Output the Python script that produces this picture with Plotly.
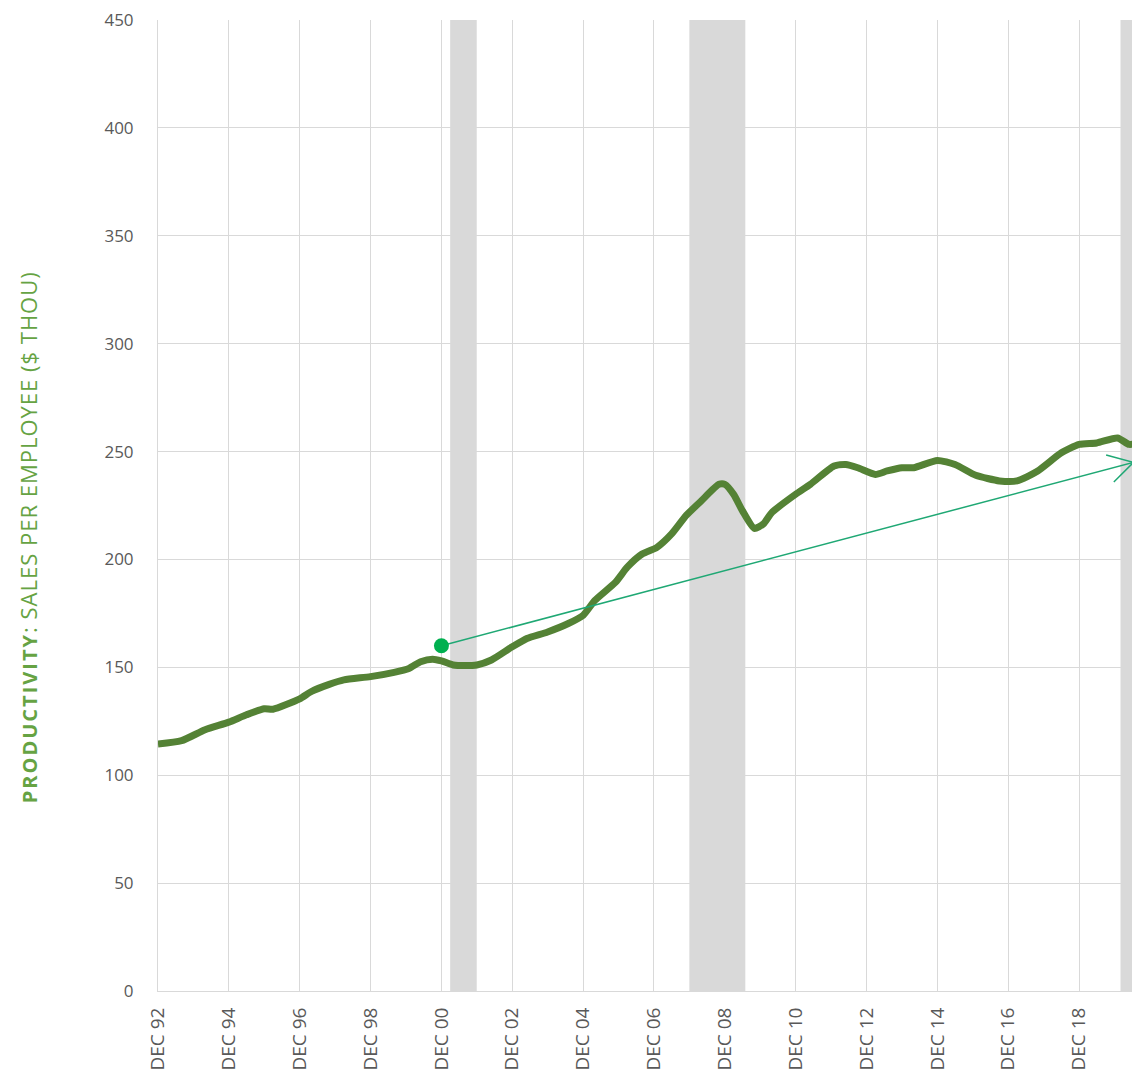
import math
import pandas as pd
import plotly.graph_objects as go

# --- data ---
dates = ['1992-12-01', '1993-08-01', '1994-04-01', '1994-12-01', '1995-06-01', '1995-12-01',
         '1996-03-01', '1996-12-01', '1997-04-01', '1997-10-01', '1998-03-01', '1998-12-01',
         '1999-08-01', '2000-01-01', '2000-05-01', '2000-09-01', '2000-12-01', '2001-04-01',
         '2001-08-01', '2001-12-01', '2002-05-01', '2002-12-01', '2003-05-01', '2003-12-01',
         '2004-07-01', '2004-12-01', '2005-04-01', '2005-11-01', '2006-03-01', '2006-08-01',
         '2007-01-01', '2007-06-01', '2007-11-01', '2008-04-01', '2008-10-01', '2008-12-01',
         '2009-03-01', '2009-06-01', '2009-10-01', '2010-01-01', '2010-04-01', '2010-12-01',
         '2011-05-01', '2012-01-01', '2012-05-01', '2012-09-01', '2013-03-01', '2013-07-01',
         '2013-12-01', '2014-04-01', '2014-12-01', '2015-06-01', '2016-01-01', '2016-09-01',
         '2017-03-01', '2017-10-01', '2018-06-01', '2018-12-01', '2019-06-01', '2020-01-01',
         '2020-05-01', '2020-08-15']
sales_per_employee = [114.5, 116.0, 121.1, 124.6, 128.0, 130.8,
                      130.6, 135.4, 138.8, 142.1, 144.2, 145.7,
                      147.7, 149.5, 152.6, 153.8, 153.0, 151.1,
                      150.8, 151.1, 153.4, 159.5, 163.4, 166.4,
                      170.3, 174.1, 181.0, 189.5, 196.4, 202.5,
                      205.6, 211.8, 220.5, 227.1, 234.8, 234.8,
                      230.2, 222.5, 214.4, 216.4, 221.8, 230.2,
                      234.8, 243.3, 244.0, 242.5, 239.4, 241.0,
                      242.5, 242.5, 245.9, 244.0, 239.0, 236.4,
                      236.4, 241.0, 249.4, 253.3, 254.0, 256.3,
                      253.3, 254.0]

# recessions (start, end)
recession_start = ['2001-03-01', '2007-12-01', '2020-02-01']
recession_end = ['2001-11-30', '2009-06-30', '2020-08-20']

# trend arrow
trend_dates = ['2000-12-01', '2020-06-15']
trend_values = [160, 245]

tick_dates = ['1992-12-01', '1994-12-01', '1996-12-01', '1998-12-01', '2000-12-01',
              '2002-12-01', '2004-12-01', '2006-12-01', '2008-12-01', '2010-12-01',
              '2012-12-01', '2014-12-01', '2016-12-01', '2018-12-01']
tick_labels = ['DEC 92', 'DEC 94', 'DEC 96', 'DEC 98', 'DEC 00', 'DEC 02', 'DEC 04',
               'DEC 06', 'DEC 08', 'DEC 10', 'DEC 12', 'DEC 14', 'DEC 16', 'DEC 18']

x_range = ['1992-12-01', '2020-08-20']
y_range = [0, 450]

# --- figure geometry (page body adds 8px) ---
W, H = 1132, 1072
M = dict(l=150, r=0, t=12, b=89)
plot_w = W - M['l'] - M['r']
plot_h = H - M['t'] - M['b']

GRID = '#d9d9d9'
TXT = '#595959'
ARROW = '#1fa874'
FONT = 'Open Sans'

fig = go.Figure()

for s, e in zip(recession_start, recession_end):
    fig.add_shape(type='rect', xref='x', yref='paper', x0=s, x1=e, y0=0, y1=1,
                  fillcolor='#d9d9d9', line_width=0, layer='below')

fig.add_trace(go.Scatter(x=pd.to_datetime(dates), y=sales_per_employee, mode='lines',
                         line=dict(color='#548235', width=7, shape='spline', smoothing=0.6),
                         hoverinfo='skip'))

fig.add_trace(go.Scatter(x=pd.to_datetime(trend_dates), y=trend_values, mode='lines',
                         line=dict(color=ARROW, width=1.5), hoverinfo='skip'))
fig.add_trace(go.Scatter(x=pd.to_datetime(trend_dates[:1]), y=trend_values[:1], mode='markers',
                         marker=dict(color='#00b050', size=15), hoverinfo='skip'))

# open arrow head: two short legs in pixel space
t0, t1 = pd.Timestamp(x_range[0]), pd.Timestamp(x_range[1])
span = (t1 - t0).total_seconds()
def to_px(d, v):
    px = (pd.Timestamp(d) - t0).total_seconds() / span * plot_w
    py = -(v - y_range[0]) / (y_range[1] - y_range[0]) * plot_h
    return px, py
x0p, y0p = to_px(trend_dates[0], trend_values[0])
x1p, y1p = to_px(trend_dates[1], trend_values[1])
n = math.hypot(x1p - x0p, y1p - y0p)
rx, ry = -(x1p - x0p) / n, -(y1p - y0p) / n
for ang in (30, -30):
    a = math.radians(ang)
    lx = rx * math.cos(a) - ry * math.sin(a)
    ly = rx * math.sin(a) + ry * math.cos(a)
    fig.add_annotation(x=trend_dates[1], y=trend_values[1], ax=lx * 30, ay=ly * 30,
                       text='', showarrow=True, arrowhead=0, arrowwidth=1.5,
                       arrowcolor=ARROW, standoff=0, startstandoff=0)

fig.add_annotation(xref='paper', yref='paper', x=-0.15, y=0.467, textangle=-90,
                   text='<b><span style="font-size:20px;letter-spacing:2px">PRODUCTIVITY</span></b>'
                        '<span style="letter-spacing:1px">: SALES PER EMPLOYEE ($ THOU)</span>',
                   showarrow=False, font=dict(family=FONT, size=22, color='#66a343'))

fig.update_xaxes(type='date', range=x_range, tickvals=tick_dates, ticktext=tick_labels,
                 tickangle=-90, showgrid=True, gridcolor=GRID, gridwidth=1,
                 showline=True, linecolor=GRID, zeroline=False, automargin=False,
                 tickfont=dict(family=FONT, size=19, color=TXT), ticklabelstandoff=8)
fig.update_yaxes(range=y_range, dtick=50, showgrid=True, gridcolor=GRID, gridwidth=1,
                 showline=True, linecolor=GRID, zeroline=False, ticklabeloverflow='allow',
                 automargin=False,
                 tickfont=dict(family=FONT, size=17, color=TXT), ticklabelstandoff=20)

fig.update_layout(width=W, height=H, margin=M, showlegend=False,
                  plot_bgcolor='white', paper_bgcolor='white')

fig.write_html("out.html")
